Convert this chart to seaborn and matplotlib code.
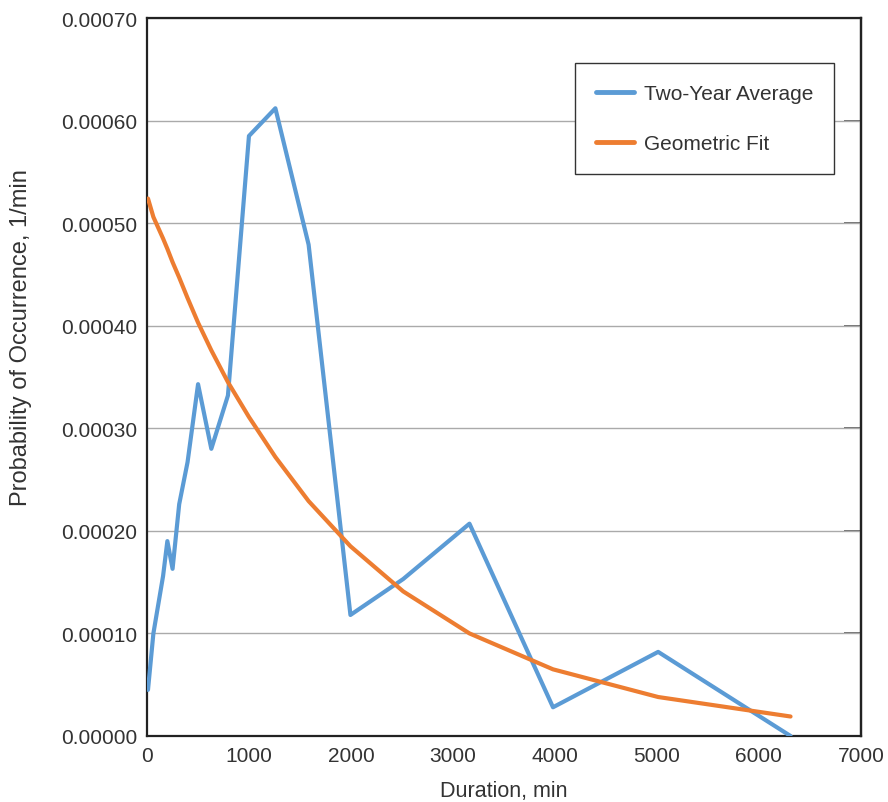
import matplotlib
matplotlib.use("Agg")
import matplotlib.pyplot as plt
import seaborn as sns
import pandas as pd

duration = [10, 63, 158, 200, 251, 316, 398, 501, 631, 794, 1000, 1259, 1585,
            1995, 2512, 3162, 3981, 5012, 6310]
two_year_avg = [0.000045, 0.000100, 0.000156, 0.000190, 0.000163, 0.000226,
                0.000267, 0.000343, 0.000280, 0.000332, 0.000585, 0.000612,
                0.000479, 0.000118, 0.000153, 0.000207, 0.000028, 0.000082,
                0.000000]
geometric_fit = [0.000524, 0.000506, 0.000485, 0.000475, 0.000462, 0.000447,
                 0.000427, 0.000403, 0.000376, 0.000345, 0.000311, 0.000272,
                 0.000229, 0.000185, 0.000141, 0.000100, 0.000065, 0.000038,
                 0.000019]
series_names = ["Two-Year Average", "Geometric Fit"]
x_ticks = [0, 1000, 2000, 3000, 4000, 5000, 6000, 7000]
y_ticks = [0.0, 0.0001, 0.0002, 0.0003, 0.0004, 0.0005, 0.0006, 0.0007]

df = pd.concat([
    pd.DataFrame({"Duration": duration, "Prob": two_year_avg, "Series": series_names[0]}),
    pd.DataFrame({"Duration": duration, "Prob": geometric_fit, "Series": series_names[1]}),
])

sns.set_theme(style="white")
plt.rcParams["font.family"] = ["Liberation Sans", "DejaVu Sans"]
text_color = "#333333"

fig = plt.figure(figsize=(8.88, 8.03), dpi=100)
ax = fig.add_axes([0.1655, 0.0822, 0.804, 0.8941])

sns.lineplot(data=df, x="Duration", y="Prob", hue="Series", hue_order=series_names,
             palette=["#5b9bd5", "#ed7d31"], linewidth=3.0, sort=False,
             estimator=None, ax=ax, zorder=3)

ax.set_xlim(0, 7000)
ax.set_ylim(0, 0.0007)
ax.set_xticks(x_ticks)
ax.set_yticks(y_ticks)
ax.set_xticklabels([str(v) for v in x_ticks])
ax.set_yticklabels([f"{v:.5f}" for v in y_ticks])
ax.yaxis.grid(True, color="#aaaaaa", linewidth=1.0)
ax.xaxis.grid(False)

for s in ax.spines.values():
    s.set_color("#222222")
    s.set_linewidth(1.6)

ax.tick_params(axis="x", direction="in", length=11, width=1.2, colors="#222222",
               labelcolor=text_color, labelsize=15, pad=7)
ax.tick_params(axis="y", direction="out", length=5, width=1.0, colors="#888888",
               labelcolor=text_color, labelsize=15, pad=2)

sec = ax.secondary_yaxis("right")
sec.set_yticks(y_ticks)
sec.tick_params(axis="y", direction="in", length=12, width=1.2, colors="#555555",
                labelright=False)
sec.spines["right"].set_color("#222222")
sec.spines["right"].set_linewidth(1.6)

ax.set_xlabel("Duration, min", fontsize=15.5, color=text_color, labelpad=11)
ax.set_ylabel("Probability of Occurrence, 1/min", fontsize=17, color=text_color)
ax.yaxis.set_label_coords(-0.161, 0.556)

leg = ax.legend(loc="upper right", bbox_to_anchor=(0.962, 0.937), fontsize=15,
                frameon=True, fancybox=False, edgecolor="#333333", framealpha=1,
                handlelength=1.85, handletextpad=0.45, borderpad=1.0, labelspacing=1.5,
                borderaxespad=0)
leg.get_frame().set_linewidth(1.0)
for t in leg.get_texts():
    t.set_color(text_color)
for h in leg.get_lines():
    h.set_linewidth(3.5)

fig.savefig("out.png", dpi=100)
